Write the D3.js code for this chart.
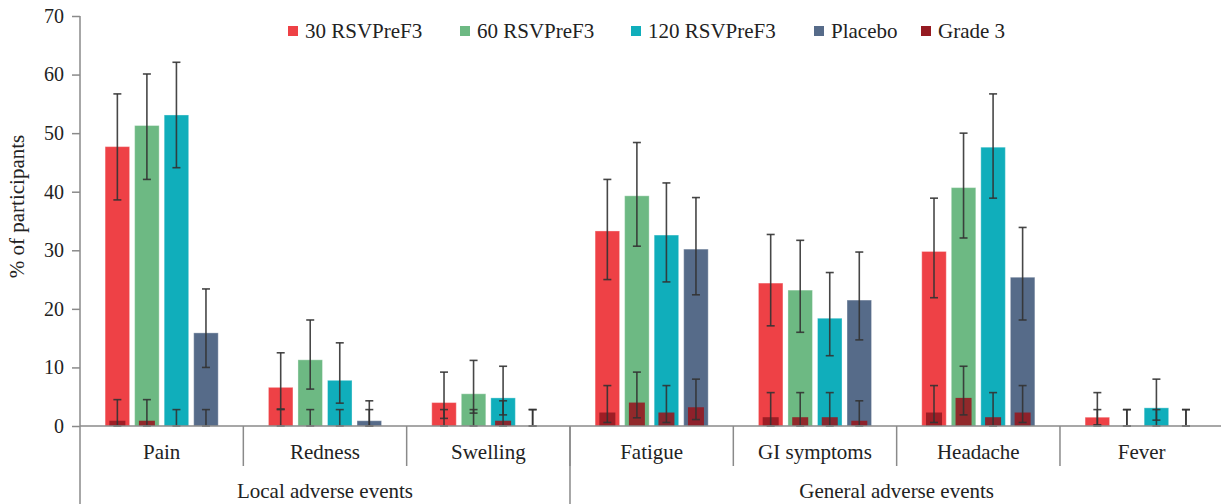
<!DOCTYPE html>
<html>
<head>
<meta charset="utf-8">
<script src="https://cdn.jsdelivr.net/npm/d3@7/dist/d3.min.js"></script>
<style>
  html, body { margin: 0; padding: 0; background: #fff; }
  svg { display: block; }
  text { font-family: "Liberation Serif", "DejaVu Serif", serif; fill: #222; }
</style>
</head>
<body>
<svg id="chart" width="1221" height="504"></svg>
<script>
// ---------- DATA ----------
const categories = ["Pain", "Redness", "Swelling", "Fatigue", "GI symptoms", "Headache", "Fever"];
const groupNames = ["Local adverse events", "General adverse events"];
const groupSizes = [3, 4];
const seriesNames = ["30 RSVPreF3", "60 RSVPreF3", "120 RSVPreF3", "Placebo"];
const gradeName = "Grade 3";
const yTicks = [0, 10, 20, 30, 40, 50, 60, 70];

// any grade (%), with 95% CI
const v30  = [47.7, 6.6, 4.0, 33.3, 24.4, 29.8, 1.5];
const lo30 = [38.6, 2.9, 1.3, 25.0, 17.1, 21.9, 0.2];
const hi30 = [56.7, 12.5, 9.2, 42.1, 32.7, 38.9, 5.7];

const v60  = [51.3, 11.3, 5.5, 39.3, 23.2, 40.7, 0];
const lo60 = [42.1, 6.3, 2.2, 30.7, 16.0, 32.1, 0];
const hi60 = [60.1, 18.1, 11.2, 48.4, 31.7, 50.0, 2.8];

const v120  = [53.1, 7.8, 4.8, 32.6, 18.4, 47.6, 3.1];
const lo120 = [44.1, 3.9, 1.9, 24.6, 12.0, 38.9, 1.0];
const hi120 = [62.1, 14.2, 10.2, 41.5, 26.2, 56.7, 8.0];

const vPl  = [15.9, 0.9, 0, 30.2, 21.5, 25.4, 0];
const loPl = [10.0, 0, 0, 22.4, 14.7, 18.1, 0];
const hiPl = [23.4, 4.3, 2.8, 39.0, 29.7, 33.9, 2.8];

// grade 3 (%), with 95% CI
const g30  = [0.9, 0, 0, 2.3, 1.5, 2.3, 0];
const gl30 = [0, 0, 0, 0.6, 0, 0.6, 0];
const gh30 = [4.5, 2.8, 2.8, 6.9, 5.7, 6.9, 2.8];

const g60  = [0.9, 0, 0, 4.0, 1.5, 4.8, 0];
const gl60 = [0, 0, 0, 1.4, 0, 1.9, 0];
const gh60 = [4.5, 2.8, 2.8, 9.2, 5.7, 10.2, 2.8];

const g120  = [0, 0, 0.9, 2.3, 1.5, 1.5, 0];
const gl120 = [0, 0, 0, 0.6, 0, 0, 0];
const gh120 = [2.8, 2.8, 4.3, 6.9, 5.7, 5.7, 2.8];

const gPl  = [0, 0, 0, 3.2, 0.9, 2.3, 0];
const glPl = [0, 0, 0, 1.1, 0, 0.6, 0];
const ghPl = [2.8, 2.8, 2.8, 8.0, 4.3, 6.9, 2.8];

// ---------- STYLE ----------
const colors = ["#EE4146", "#6DB983", "#10AEBB", "#566B89"];
const gradeColor = "#951A21";
const axisColor = "#8a8a8a";
const errColor = "#333";

const series = [
  { name: seriesNames[0], v: v30, lo: lo30, hi: hi30, g: g30, gl: gl30, gh: gh30 },
  { name: seriesNames[1], v: v60, lo: lo60, hi: hi60, g: g60, gl: gl60, gh: gh60 },
  { name: seriesNames[2], v: v120, lo: lo120, hi: hi120, g: g120, gl: gl120, gh: gh120 },
  { name: seriesNames[3], v: vPl, lo: loPl, hi: hiPl, g: gPl, gl: glPl, gh: ghPl }
];

const svg = d3.select("#chart");
const plotLeft = 80, plotTop = 16, plotBottom = 426;
const bandW = 163.33;
const plotRight = plotLeft + bandW * categories.length;

const x = d3.scaleBand().domain(categories).range([plotLeft, plotRight]).paddingInner(0).paddingOuter(0);
const xs = d3.scaleBand().domain(seriesNames).range([0, x.bandwidth()]).paddingInner(0.17).paddingOuter(0.85);
const y = d3.scaleLinear().domain([0, 70]).range([plotBottom, plotTop]);

// ---------- Y AXIS ----------
const yAxis = d3.axisLeft(y).tickValues(yTicks).tickSize(8).tickPadding(8).tickFormat(d3.format("d"));
const gy = svg.append("g").attr("transform", `translate(${plotLeft},0)`).call(yAxis);
gy.select(".domain").remove();
gy.selectAll(".tick line").attr("stroke", axisColor).attr("stroke-width", 1.5);
gy.selectAll(".tick text").attr("font-size", 20).attr("fill", "#333")
  .style("font-family", '"Liberation Serif", serif');
svg.append("line").attr("x1", plotLeft).attr("x2", plotLeft).attr("y1", y(70)).attr("y2", 504)
  .attr("stroke", axisColor).attr("stroke-width", 1.5);

svg.append("text")
  .attr("transform", `translate(24,${(120 + 293) / 2}) rotate(-90)`)
  .attr("text-anchor", "middle").attr("font-size", 21).attr("fill", "#333")
  .text("% of participants");

// ---------- BARS ----------
const cg = svg.append("g").selectAll("g").data(categories).join("g")
  .attr("transform", d => `translate(${x(d)},0)`);

series.forEach((s, si) => {
  const bw = xs.bandwidth();
  const gw = 16;
  cg.append("rect")
    .attr("x", xs(s.name))
    .attr("width", bw)
    .attr("y", (d, i) => y(s.v[i]))
    .attr("height", (d, i) => y(0) - y(s.v[i]))
    .attr("fill", colors[si])
    .attr("stroke", "#fff").attr("stroke-opacity", 0.35).attr("stroke-width", 1);
  cg.append("rect")
    .attr("x", xs(s.name) + (bw - gw) / 2)
    .attr("width", gw)
    .attr("y", (d, i) => y(s.g[i]))
    .attr("height", (d, i) => y(0) - y(s.g[i]))
    .attr("fill", gradeColor).attr("fill-opacity", 0.9);
});

function errBars(getLo, getHi, si) {
  const s = series[si];
  const cx = xs(s.name) + xs.bandwidth() / 2;
  const cap = 4;
  const eg = cg.append("g").attr("stroke", errColor).attr("stroke-width", 1.6).attr("stroke-opacity", 0.9);
  eg.append("line").attr("x1", cx).attr("x2", cx)
    .attr("y1", (d, i) => y(getLo(i))).attr("y2", (d, i) => y(getHi(i)));
  eg.append("line").attr("x1", cx - cap).attr("x2", cx + cap)
    .attr("y1", (d, i) => y(getHi(i))).attr("y2", (d, i) => y(getHi(i)));
  eg.append("line").attr("x1", cx - cap).attr("x2", cx + cap)
    .attr("y1", (d, i) => y(getLo(i))).attr("y2", (d, i) => y(getLo(i)));
}
series.forEach((s, si) => {
  errBars(i => s.lo[i], i => s.hi[i], si);
  errBars(i => s.gl[i], i => s.gh[i], si);
});

// ---------- X AXIS ----------
svg.append("line").attr("x1", plotLeft).attr("x2", 1221).attr("y1", plotBottom).attr("y2", plotBottom)
  .attr("stroke", axisColor).attr("stroke-width", 1.5);

categories.forEach((c, i) => {
  if (i > 0) {
    svg.append("line").attr("x1", x(c)).attr("x2", x(c)).attr("y1", plotBottom).attr("y2", 466)
      .attr("stroke", axisColor).attr("stroke-width", 1.5);
  }
  svg.append("text").attr("x", x(c) + x.bandwidth() / 2).attr("y", 459)
    .attr("text-anchor", "middle").attr("font-size", 21).text(c);
});

let start = 0;
groupNames.forEach((gname, gi) => {
  const first = categories[start];
  const last = categories[start + groupSizes[gi] - 1];
  const x0 = x(first), x1 = x(last) + x.bandwidth();
  if (gi > 0) {
    svg.append("line").attr("x1", x0).attr("x2", x0).attr("y1", plotBottom).attr("y2", 504)
      .attr("stroke", axisColor).attr("stroke-width", 1.5);
  }
  svg.append("text").attr("x", (x0 + x1) / 2).attr("y", 498)
    .attr("text-anchor", "middle").attr("font-size", 21).text(gname);
  start += groupSizes[gi];
});

// ---------- LEGEND ----------
const legendItems = seriesNames.map((n, i) => ({ name: n, color: colors[i] }))
  .concat([{ name: gradeName, color: gradeColor }]);
const legendX = [288, 460, 631, 814, 921];
const lg = svg.append("g").selectAll("g").data(legendItems).join("g")
  .attr("transform", (d, i) => `translate(${legendX[i]},31)`);
lg.append("rect").attr("x", 0).attr("y", -5).attr("width", 10).attr("height", 10)
  .attr("fill", d => d.color);
lg.append("text").attr("x", 17).attr("y", 7).attr("font-size", 21).text(d => d.name);
</script>
</body>
</html>
